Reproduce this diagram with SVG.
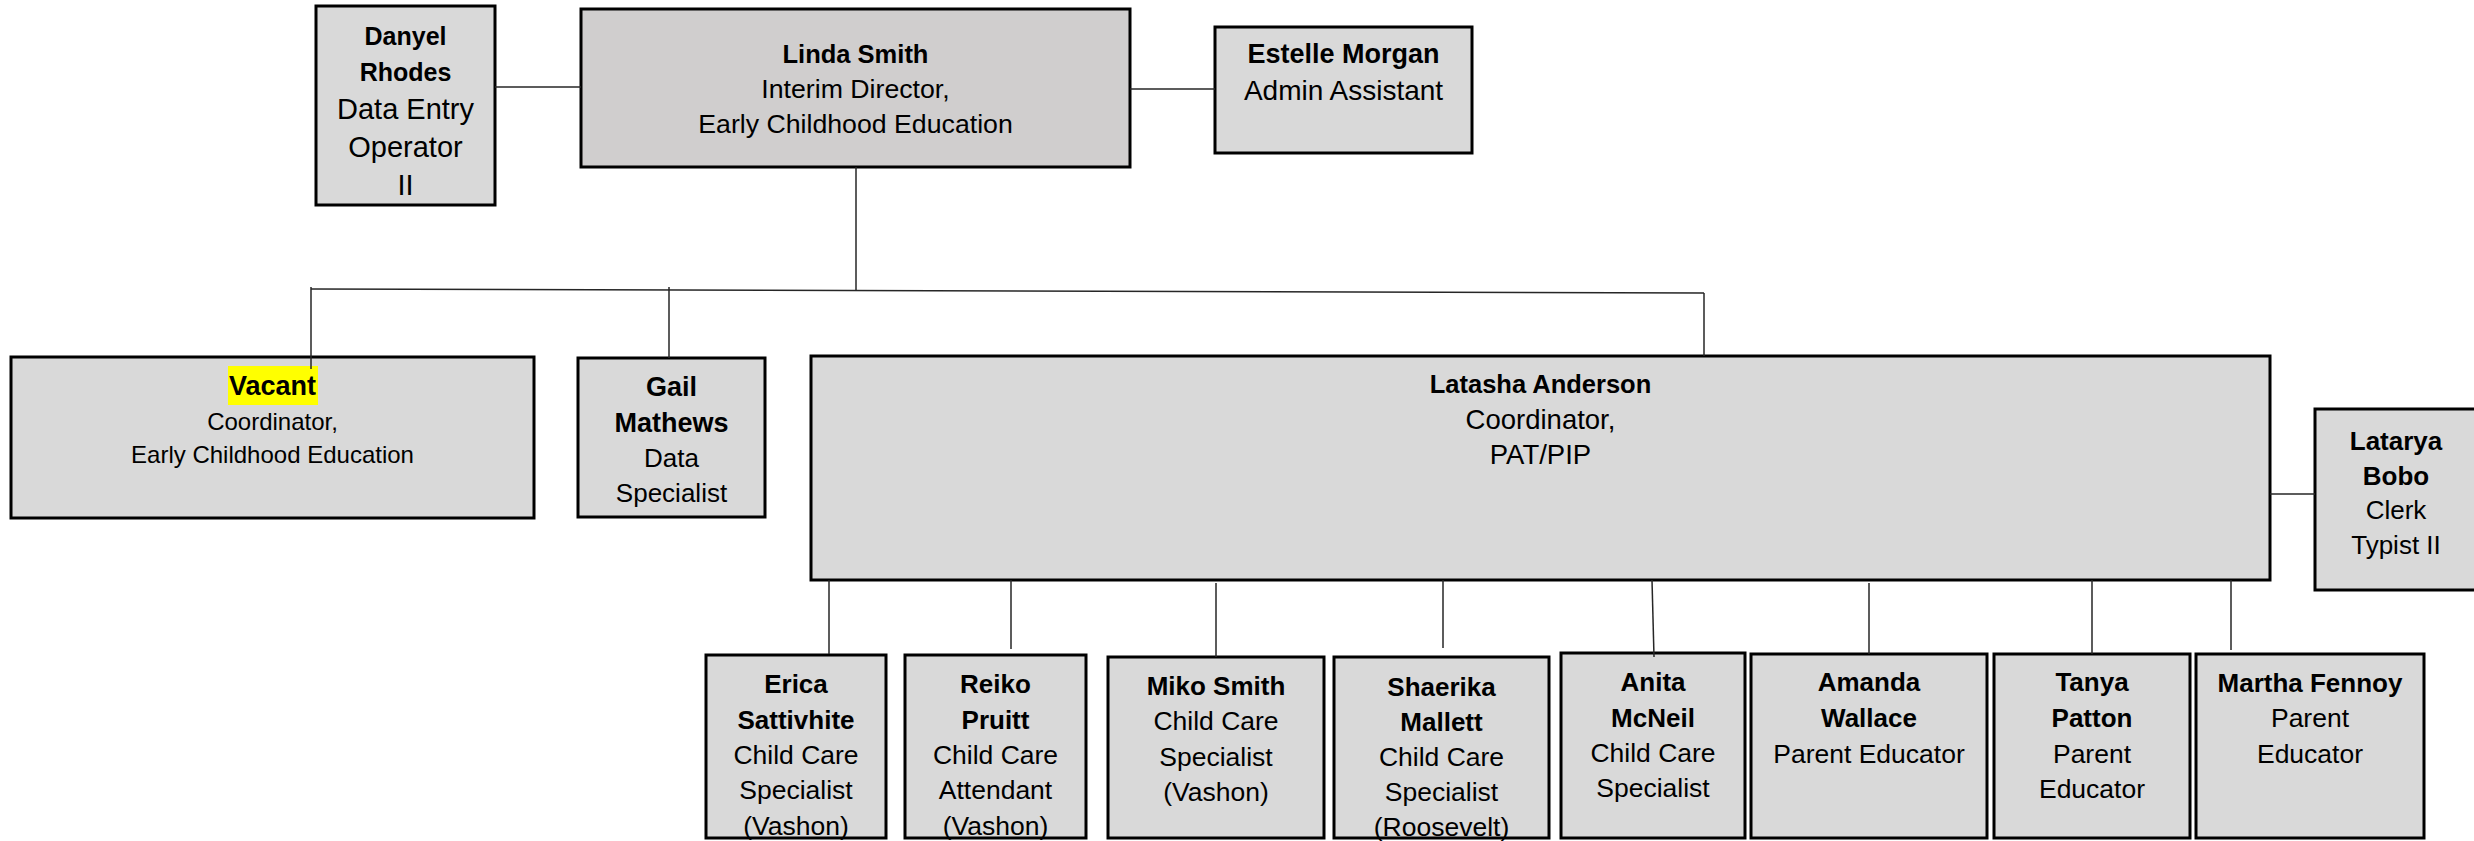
<svg xmlns="http://www.w3.org/2000/svg" width="2474" height="841" viewBox="0 0 2474 841">
<style>
.box{fill:#D9D9D9;stroke:#000;stroke-width:3}
.dir{fill:#D0CECE}
text{font-family:"Liberation Sans",Arial,sans-serif;text-anchor:middle;fill:#000}
.n{font-weight:bold;font-size:26px}
.t{font-size:26.5px}
.c{stroke:#262626;stroke-width:1.5;fill:none}
</style>
<rect width="2474" height="841" fill="#fff"/>
<g id="danyel">
<rect class="box" x="316" y="6" width="179" height="199"/>
<text class="n" x="405.5" y="45" style="font-size:25px">Danyel</text>
<text class="n" x="405.5" y="81" style="font-size:25px">Rhodes</text>
<text class="t" x="405.5" y="119" style="font-size:29px">Data Entry</text>
<text class="t" x="405.5" y="157" style="font-size:29px">Operator</text>
<text class="t" x="405.5" y="195" style="font-size:29px">II</text>
</g>
<g id="linda">
<rect class="box dir" x="581" y="9" width="549" height="158"/>
<text class="n" x="855.5" y="63" style="font-size:25.5px">Linda Smith</text>
<text class="t" x="855.5" y="98" style="font-size:26.7px">Interim Director,</text>
<text class="t" x="855.5" y="133" style="font-size:26.7px">Early Childhood Education</text>
</g>
<g id="estelle">
<rect class="box" x="1215" y="27" width="257" height="126"/>
<text class="n" x="1343.5" y="63" style="font-size:27px">Estelle Morgan</text>
<text class="t" x="1343.5" y="100" style="font-size:28px">Admin Assistant</text>
</g>
<g id="vacant">
<rect class="box" x="11" y="357" width="523" height="161"/>
<rect x="228" y="366" width="90" height="39" fill="#FFFF00"/>
<text class="n" x="272.5" y="395" style="font-size:27px">Vacant</text>
<text class="t" x="272.5" y="430" style="font-size:24px">Coordinator,</text>
<text class="t" x="272.5" y="463" style="font-size:24px">Early Childhood Education</text>
</g>
<g id="gail">
<rect class="box" x="578" y="358" width="187" height="159"/>
<text class="n" x="671.5" y="396" style="font-size:27px">Gail</text>
<text class="n" x="671.5" y="432" style="font-size:27px">Mathews</text>
<text class="t" x="671.5" y="467" style="font-size:26px">Data</text>
<text class="t" x="671.5" y="502" style="font-size:26px">Specialist</text>
</g>
<g id="latasha">
<rect class="box" x="811" y="356" width="1459" height="224"/>
<text class="n" x="1540.5" y="393" style="font-size:25.5px">Latasha Anderson</text>
<text class="t" x="1540.5" y="429" style="font-size:27.5px">Coordinator,</text>
<text class="t" x="1540.5" y="464" style="font-size:27.5px">PAT/PIP</text>
</g>
<g id="latarya">
<rect class="box" x="2315" y="409" width="163" height="181"/>
<text class="n" x="2396" y="450">Latarya</text>
<text class="n" x="2396" y="485">Bobo</text>
<text class="t" x="2396" y="519" style="font-size:26px">Clerk</text>
<text class="t" x="2396" y="554" style="font-size:26px">Typist II</text>
</g>
<g id="erica">
<rect class="box" x="706" y="655" width="180" height="183"/>
<text class="n" x="796" y="693">Erica</text>
<text class="n" x="796" y="729">Sattivhite</text>
<text class="t" x="796" y="764">Child Care</text>
<text class="t" x="796" y="799">Specialist</text>
<text class="t" x="796" y="835">(Vashon)</text>
</g>
<g id="reiko">
<rect class="box" x="905" y="655" width="181" height="183"/>
<text class="n" x="995.5" y="693">Reiko</text>
<text class="n" x="995.5" y="729">Pruitt</text>
<text class="t" x="995.5" y="764">Child Care</text>
<text class="t" x="995.5" y="799">Attendant</text>
<text class="t" x="995.5" y="835">(Vashon)</text>
</g>
<g id="miko">
<rect class="box" x="1108" y="657" width="216" height="181"/>
<text class="n" x="1216" y="695">Miko Smith</text>
<text class="t" x="1216" y="730">Child Care</text>
<text class="t" x="1216" y="766">Specialist</text>
<text class="t" x="1216" y="801">(Vashon)</text>
</g>
<g id="shaerika">
<rect class="box" x="1334" y="657" width="215" height="181"/>
<text class="n" x="1441.5" y="696">Shaerika</text>
<text class="n" x="1441.5" y="731">Mallett</text>
<text class="t" x="1441.5" y="766">Child Care</text>
<text class="t" x="1441.5" y="801">Specialist</text>
<text class="t" x="1441.5" y="836">(Roosevelt)</text>
</g>
<g id="anita">
<rect class="box" x="1561" y="653" width="184" height="185"/>
<text class="n" x="1653" y="691">Anita</text>
<text class="n" x="1653" y="727">McNeil</text>
<text class="t" x="1653" y="762">Child Care</text>
<text class="t" x="1653" y="797">Specialist</text>
</g>
<g id="amanda">
<rect class="box" x="1751" y="654" width="236" height="184"/>
<text class="n" x="1869" y="691">Amanda</text>
<text class="n" x="1869" y="727">Wallace</text>
<text class="t" x="1869" y="763">Parent Educator</text>
</g>
<g id="tanya">
<rect class="box" x="1994" y="654" width="196" height="184"/>
<text class="n" x="2092" y="691">Tanya</text>
<text class="n" x="2092" y="727">Patton</text>
<text class="t" x="2092" y="763">Parent</text>
<text class="t" x="2092" y="798">Educator</text>
</g>
<g id="martha">
<rect class="box" x="2196" y="654" width="228" height="184"/>
<text class="n" x="2310" y="692">Martha Fennoy</text>
<text class="t" x="2310" y="727">Parent</text>
<text class="t" x="2310" y="763">Educator</text>
</g>
<g id="connectors" class="c">
<path d="M495 87H581"/>
<path d="M1130 89H1215"/>
<path d="M856 167V290"/>
<path d="M311 289L1704 293"/>
<path d="M311 287V369"/>
<path d="M669 287V358"/>
<path d="M1704 293V356"/>
<path d="M2270 494H2315"/>
<path d="M829 580V654"/>
<path d="M1011 580V649"/>
<path d="M1216 583V657"/>
<path d="M1443 580V648"/>
<path d="M1652 580L1654 657"/>
<path d="M1869 583V654"/>
<path d="M2092 580V654"/>
<path d="M2231 580V650"/>
</g>
</svg>
